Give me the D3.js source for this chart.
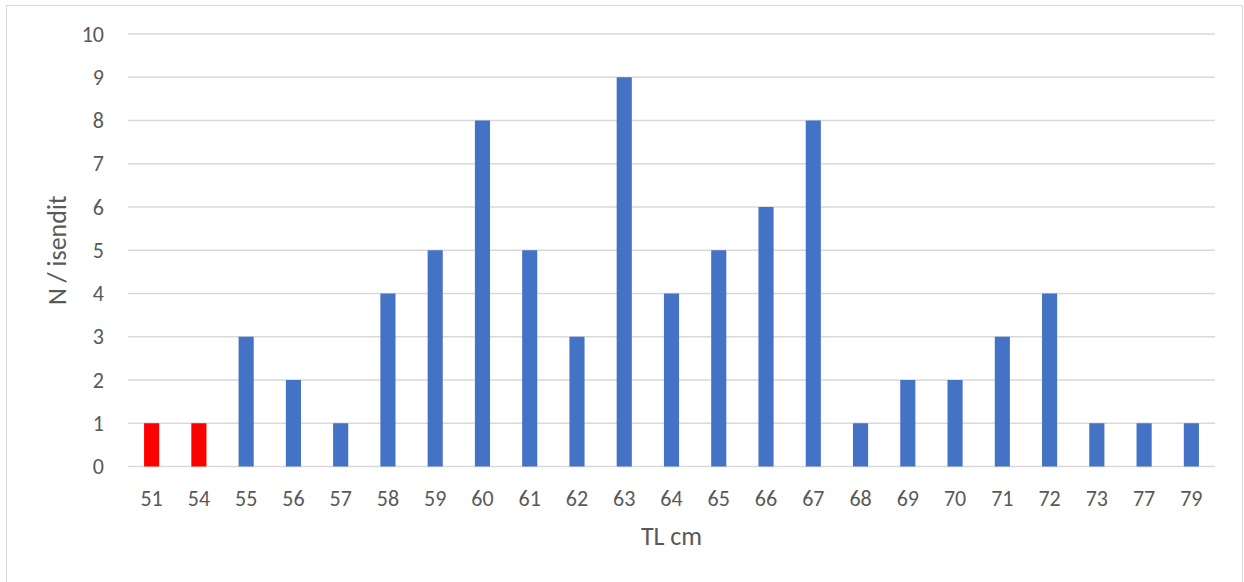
<!DOCTYPE html>
<html>
<head>
<meta charset="utf-8">
<script src="https://cdn.jsdelivr.net/npm/d3@7"></script>
<style>
  html, body { margin: 0; padding: 0; background: #fff; }
  svg { display: block; font-family: Carlito, Lato, "Open Sans", sans-serif; }
</style>
</head>
<body>
<svg id="chart" width="1244" height="582"></svg>
<script>
// Length classes (TL, cm) and the number of fish in each
const lengths = ["51","54","55","56","57","58","59","60","61","62","63","64","65","66","67","68","69","70","71","72","73","77","79"];
const counts  = [1,1,3,2,1,4,5,8,5,3,9,4,5,6,8,1,2,2,3,4,1,1,1];
const highlighted = ["51","54"];
const yTicks = [0,1,2,3,4,5,6,7,8,9,10];

const FONT = "Carlito, Lato, 'Open Sans', sans-serif";
const svg = d3.select("#chart");
const plot = { left: 128, right: 1215, top: 34, bottom: 466.5 };

// chart frame
svg.append("rect")
  .attr("x", 6.5).attr("y", 5.5)
  .attr("width", 1236).attr("height", 600)
  .attr("fill", "#fff").attr("stroke", "#d9d9d9").attr("stroke-width", 1);

const x = d3.scaleBand().domain(lengths).range([plot.left, plot.right])
  .paddingInner(0.68).paddingOuter(0.34);
const y = d3.scaleLinear().domain([0, 10]).range([plot.bottom, plot.top]);

// horizontal gridlines
svg.append("g").selectAll("line").data(yTicks).join("line")
  .attr("x1", plot.left).attr("x2", plot.right)
  .attr("y1", d => y(d)).attr("y2", d => y(d))
  .attr("stroke", "#d9d9d9").attr("stroke-width", 1.5);

// y axis labels
const yAxis = svg.append("g").attr("transform", `translate(${plot.left},0)`)
  .call(d3.axisLeft(y).tickValues(yTicks).tickSize(0).tickPadding(24));
yAxis.select(".domain").remove();
yAxis.selectAll("text").attr("fill", "#595959")
  .style("font-size", "22px").style("font-family", FONT);

// bars
svg.append("g").selectAll("rect").data(lengths).join("rect")
  .attr("x", d => x(d))
  .attr("width", x.bandwidth())
  .attr("y", (d, i) => y(counts[i]))
  .attr("height", (d, i) => y(0) - y(counts[i]))
  .attr("fill", d => highlighted.includes(d) ? "#ff0000" : "#4472c4");

// x axis labels
const xAxis = svg.append("g").attr("transform", `translate(0,${plot.bottom})`)
  .call(d3.axisBottom(x).tickSize(0).tickPadding(24));
xAxis.select(".domain").remove();
xAxis.selectAll("text").attr("fill", "#595959")
  .style("font-size", "22px").style("font-family", FONT);

// axis titles
svg.append("text")
  .attr("x", (plot.left + plot.right) / 2).attr("y", 545)
  .attr("text-anchor", "middle").attr("fill", "#595959")
  .style("font-size", "26px").style("font-family", FONT)
  .text("TL cm");
svg.append("text")
  .attr("transform", `translate(66,${(plot.top + plot.bottom) / 2}) rotate(-90)`)
  .attr("text-anchor", "middle").attr("fill", "#595959")
  .style("font-size", "26px").style("font-family", FONT)
  .text("N / isendit");
</script>
</body>
</html>
